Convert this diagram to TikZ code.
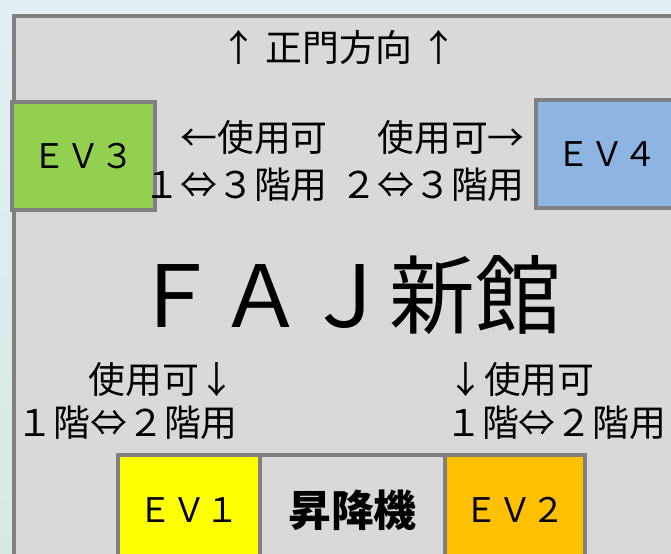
\documentclass[tikz,border=0pt]{standalone}
\usepackage{fontspec}
\setmainfont{Noto Sans CJK JP}
\definecolor{bggray}{HTML}{D9D9D9}
\definecolor{bordergray}{HTML}{808080}
\definecolor{evone}{HTML}{FFFF00}
\definecolor{evtwo}{HTML}{FFC000}
\definecolor{evthree}{HTML}{92D050}
\definecolor{evfour}{HTML}{8DB4E2}
\definecolor{outsidetop}{HTML}{E4EFF3}
\definecolor{outsidebot}{HTML}{D3EAE2}
\begin{document}
\begin{tikzpicture}[x=1bp,y=-1bp,
  wall/.style={draw=bordergray, line width=4bp, fill=bggray, inner sep=0pt},
  evbox/.style={draw=bordergray, line width=4bp, inner sep=0pt, font=\fontsize{34}{40}\selectfont},
  note/.style={inner sep=0pt, font=\fontsize{37}{42}\selectfont},
  titletext/.style={inner sep=0pt, font=\fontsize{86}{96}\selectfont}]
\useasboundingbox (0,0) rectangle (671,554);
\clip (0,0) rectangle (671,554);
\shade[top color=outsidetop, bottom color=outsidebot] (0,0) rectangle (671,554);
% building outline
\node[wall, anchor=north west, minimum width=700bp, minimum height=600bp] (building) at (12,14) {};
% top label
\node[note] (gate) at (339,47) {↑ 正門方向 ↑};
% upper elevators
\node[evbox, fill=evthree, minimum width=143bp, minimum height=108bp] (ev3) at (83.5,156) {ＥＶ３};
\node[evbox, fill=evfour, minimum width=142bp, minimum height=108bp] (ev4) at (607,154) {ＥＶ４};
\node[note, anchor=east] (ev3use) at (328,138) {←使用可};
\node[note, anchor=east] (ev3floor) at (328,185) {１⇔３階用};
\node[note, anchor=east] (ev4use) at (525,138) {使用可→};
\node[note, anchor=east] (ev4floor) at (525,185) {２⇔３階用};
% title
\node[titletext] (title) at (347,295) {ＦＡＪ新館};
% lower labels
\node[note, anchor=east] (ev1use) at (236,380) {使用可↓};
\node[note, anchor=east] (ev1floor) at (238,423) {１階⇔２階用};
\node[note, anchor=west] (ev2use) at (447,380) {↓使用可};
\node[note, anchor=west] (ev2floor) at (445,423) {１階⇔２階用};
% lower elevators
\node[evbox, fill=evone, minimum width=142bp, minimum height=110bp] (ev1) at (189,510) {ＥＶ１};
\node[evbox, fill=bggray, minimum width=185bp, minimum height=110bp, font=\fontsize{43}{48}\selectfont\bfseries] (lift) at (352.5,510) {昇降機};
\node[evbox, fill=evtwo, minimum width=140bp, minimum height=110bp] (ev2) at (515,510) {ＥＶ２};
\end{tikzpicture}
\end{document}
